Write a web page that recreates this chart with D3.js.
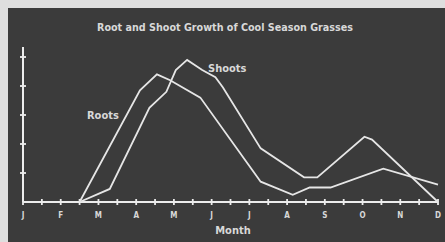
<!DOCTYPE html>
<meta charset="utf-8">
<style>
  body { margin: 0; background: #dedede; }
  text {
    font-family: "Liberation Sans Narrow", "DejaVu Sans Condensed", "Arial Narrow", sans-serif;
    font-weight: bold;
    fill: #d8d8d8;
  }
  .line { fill: none; stroke: #e6e6e6; stroke-width: 1.8px; }
  .axis { stroke: #ececec; stroke-width: 2px; }
  .tick { stroke: #ececec; stroke-width: 1.8px; }
</style>
<body>
<svg width="445" height="242"></svg>
<script src="https://d3js.org/d3.v7.min.js"></script>
<script>
// month labels (J..D) and values (month index, relative growth)
const months = ['J', 'F', 'M', 'A', 'M', 'J', 'J', 'A', 'S', 'O', 'N', 'D'];

const roots = [
  [1.5, 0], [3.1, 3.85], [3.55, 4.4], [3.9, 4.2], [4.7, 3.6],
  [6.3, 0.7], [7.15, 0.25], [7.6, 0.5], [8.15, 0.5], [9.55, 1.15], [11, 0.6]
];

const shoots = [
  [1.5, 0], [2.3, 0.45], [3.35, 3.25], [3.8, 3.8], [4.05, 4.55], [4.35, 4.9],
  [4.75, 4.55], [5.1, 4.3], [5.3, 3.95], [6.3, 1.85], [7.45, 0.85], [7.8, 0.85],
  [9.05, 2.25], [9.25, 2.15], [11, 0]
];

const yTicks = [1, 2, 3, 4, 5];

const svg = d3.select('svg');

// dark panel
svg.append('rect')
  .attr('x', 8).attr('y', 8)
  .attr('width', 437).attr('height', 234)
  .attr('fill', '#3b3b3b');

const x = d3.scaleLinear().domain([0, 11]).range([23, 438]);
const y = d3.scaleLinear().domain([0, 5]).range([202, 57]);

// title
svg.append('text')
  .attr('x', 225).attr('y', 31)
  .attr('text-anchor', 'middle')
  .attr('font-size', 10)
  .attr('textLength', 256)
  .attr('lengthAdjust', 'spacingAndGlyphs')
  .text('Root and Shoot Growth of Cool Season Grasses');

// axes
svg.append('line').attr('class', 'axis')
  .attr('x1', x(0)).attr('x2', x(11))
  .attr('y1', y(0)).attr('y2', y(0));
svg.append('line').attr('class', 'axis')
  .attr('x1', x(0)).attr('x2', x(0))
  .attr('y1', y(0)).attr('y2', 47);

// x ticks, every half month
svg.append('g').selectAll('line')
  .data(d3.range(0, 11.01, 0.5))
  .enter().append('line')
  .attr('class', 'tick')
  .attr('x1', d => x(d)).attr('x2', d => x(d))
  .attr('y1', y(0) - 3).attr('y2', y(0) + 3);

// y ticks
svg.append('g').selectAll('line')
  .data(yTicks)
  .enter().append('line')
  .attr('class', 'tick')
  .attr('x1', x(0) - 3).attr('x2', x(0) + 3)
  .attr('y1', d => y(d)).attr('y2', d => y(d));

// month labels
svg.append('g').selectAll('text')
  .data(months)
  .enter().append('text')
  .attr('x', (d, i) => x(i))
  .attr('y', 218)
  .attr('text-anchor', 'middle')
  .attr('font-size', 8)
  .text(d => d);

svg.append('text')
  .attr('x', 233).attr('y', 234)
  .attr('text-anchor', 'middle')
  .attr('font-size', 11)
  .text('Month');

// lines
const line = d3.line()
  .x(d => x(d[0]))
  .y(d => y(d[1]));

svg.append('path').attr('class', 'line').attr('d', line(roots));
svg.append('path').attr('class', 'line').attr('d', line(shoots));

// series labels
svg.append('text')
  .attr('x', 87).attr('y', 119)
  .attr('font-size', 11)
  .text('Roots');
svg.append('text')
  .attr('x', 208).attr('y', 72)
  .attr('font-size', 11)
  .text('Shoots');
</script>
</body>
